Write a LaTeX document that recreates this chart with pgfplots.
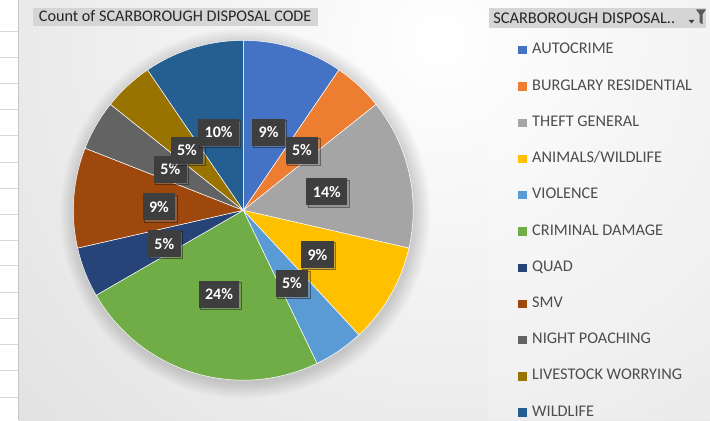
\documentclass[border=0pt]{standalone}
\usepackage{pgfplots}
\pgfplotsset{compat=1.18}
\usepackage{pgfplotstable}
\usepackage{fontspec}
\setmainfont{Carlito}
\usetikzlibrary{shadows}

\definecolor{c1}{HTML}{4472C4}
\definecolor{c2}{HTML}{ED7D31}
\definecolor{c3}{HTML}{A5A5A5}
\definecolor{c4}{HTML}{FFC000}
\definecolor{c5}{HTML}{5B9BD5}
\definecolor{c6}{HTML}{70AD47}
\definecolor{c7}{HTML}{264478}
\definecolor{c8}{HTML}{9E480E}
\definecolor{c9}{HTML}{636363}
\definecolor{c10}{HTML}{997300}
\definecolor{c11}{HTML}{255E91}
\definecolor{bggray}{HTML}{C0C0C0}
\definecolor{lblbox}{HTML}{3E3E3E}
\definecolor{legtext}{HTML}{4D4D4D}
\definecolor{titlebox}{HTML}{D5D5D5}
\definecolor{gridc}{HTML}{D9D9D9}

% counts per disposal code (pie slices, clockwise from 12 o'clock)
\pgfplotstableread[col sep=comma]{
name,count,color
AUTOCRIME,2,c1
BURGLARY RESIDENTIAL,1,c2
THEFT GENERAL,3,c3
ANIMALS/WILDLIFE,2,c4
VIOLENCE,1,c5
CRIMINAL DAMAGE,5,c6
QUAD,1,c7
SMV,2,c8
NIGHT POACHING,1,c9
LIVESTOCK WORRYING,1,c10
WILDLIFE,2,c11
}\piedata

% data label positions and texts
\pgfplotstableread{
x y lab
268.3 288.3 9\%
301.7 270.0 5\%
326.7 228.3 14\%
317.3 165.7 9\%
291.7 136.7 5\%
218.7 126.0 24\%
164.0 176.7 5\%
158.7 213.3 9\%
170.0 251.0 5\%
186.7 270.0 5\%
218.3 288.3 10\%
}\labeldata

\begin{document}
\begin{tikzpicture}
\begin{axis}[
  width=710pt, height=420pt, scale only axis,
  xmin=0, xmax=710, ymin=0, ymax=420,
  hide axis,
  clip=false,
  legend cell align=left,
  legend image code/.code={\fill[#1, draw=none] (0pt,-4.6pt) rectangle (8.3pt,3.7pt); \path (13.6pt,0pt);},
  legend style={at={(axis description cs:0.73,0.8988)}, anchor=north west,
    draw=none, fill=none, inner sep=0pt, outer sep=0pt,
    font=\fontsize{16.3}{19}\selectfont, text=legtext,
    row sep=22.25pt,
    nodes={inner sep=0pt, text height=11pt, text depth=3pt}},
]
% ---- backgrounds
\fill[white] (axis cs:0,0) rectangle (axis cs:710,420);
\begin{scope}
\clip (axis cs:18.3,0) rectangle (axis cs:710,420);
\shade[inner color=white, outer color=bggray] (axis cs:440,380) circle [radius=1240pt];
\fill[white, opacity=0.18] (axis cs:487.5,0) rectangle (axis cs:710,420);
\end{scope}
\pgfplotsinvokeforeach{389,363.3,337.3,311,285,258.3,232.3,206.3,180.3,154.7,128,102,76,50,23}{
  \draw[gridc, line width=0.8pt] (axis cs:0,#1) -- (axis cs:18.3,#1);
}
\draw[gray!45, line width=0.8pt] (axis cs:18.3,0) -- (axis cs:18.3,420);
% pie shadow halo
\pgfplotsinvokeforeach{171,173,175,177,179,181,183,185}{
  \fill[black, opacity=0.018] (axis cs:245,207) circle [radius=#1pt];
}
% ---- title boxes
\fill[titlebox] (axis cs:33,394) rectangle (axis cs:318,412.7);
\node[anchor=base west, inner sep=0pt, font=\fontsize{16.2}{19}\selectfont, text=black!85] at (axis cs:38.3,399.3) {Count of SCARBOROUGH DISPOSAL CODE};
\fill[titlebox] (axis cs:489,392) rectangle (axis cs:706,412.7);
\node[anchor=base west, inner sep=0pt, font=\fontsize{16.4}{19}\selectfont, text=black!85] at (axis cs:493,396.7) {SCARBOROUGH DISPOSAL..};
\fill[black!75] (axis cs:688.5,400.5) -- (axis cs:694.5,400.5) -- (axis cs:691.5,397) -- cycle;
\fill[black!65] (axis cs:696,411) -- (axis cs:706,411) -- (axis cs:702.5,406) -- (axis cs:702.5,396) -- (axis cs:699.5,398) -- (axis cs:699.5,406) -- cycle;

% ---- pie slices
\pgfplotstablegetrowsof{\piedata}
\pgfmathtruncatemacro\nrows{\pgfplotsretval-1}
\def\total{0}
\pgfplotsforeachungrouped \i in {0,...,\nrows}{%
  \pgfplotstablegetelem{\i}{count}\of\piedata
  \pgfmathsetmacro\total{\total+\pgfplotsretval}%
}
\def\cum{0}
\pgfplotsforeachungrouped \i in {0,...,\nrows}{%
  \pgfplotstablegetelem{\i}{count}\of\piedata \let\cnt\pgfplotsretval
  \pgfplotstablegetelem{\i}{name}\of\piedata \let\nm\pgfplotsretval
  \pgfplotstablegetelem{\i}{color}\of\piedata \let\col\pgfplotsretval
  \pgfmathsetmacro\angA{360*\cum/\total}%
  \pgfmathsetmacro\angB{360*(\cum+\cnt)/\total}%
  \edef\tmp{\noexpand\addplot[fill=\col, draw=white, line width=0.5pt, domain=\angA:\angB, samples=60, variable=\noexpand\t]
    ({243+170*sin(\noexpand\t)},{210+170*cos(\noexpand\t)}) -- (axis cs:243,210) -- cycle;
    \noexpand\addlegendentry{\nm}}%
  \tmp
  \pgfmathsetmacro\cum{\cum+\cnt}%
}

% ---- data labels
\addplot[forget plot, only marks, mark=none,
  nodes near coords, point meta=explicit symbolic,
  nodes near coords style={anchor=center, fill=lblbox, text=white,
    font=\bfseries\fontsize{16}{16}\selectfont,
    inner xsep=6.5pt, inner ysep=0pt, minimum height=27pt,
    drop shadow={shadow xshift=1.5pt, shadow yshift=-1.5pt, opacity=0.4}}]
  table[x=x, y=y, meta=lab] {\labeldata};
\end{axis}
\end{tikzpicture}
\end{document}
